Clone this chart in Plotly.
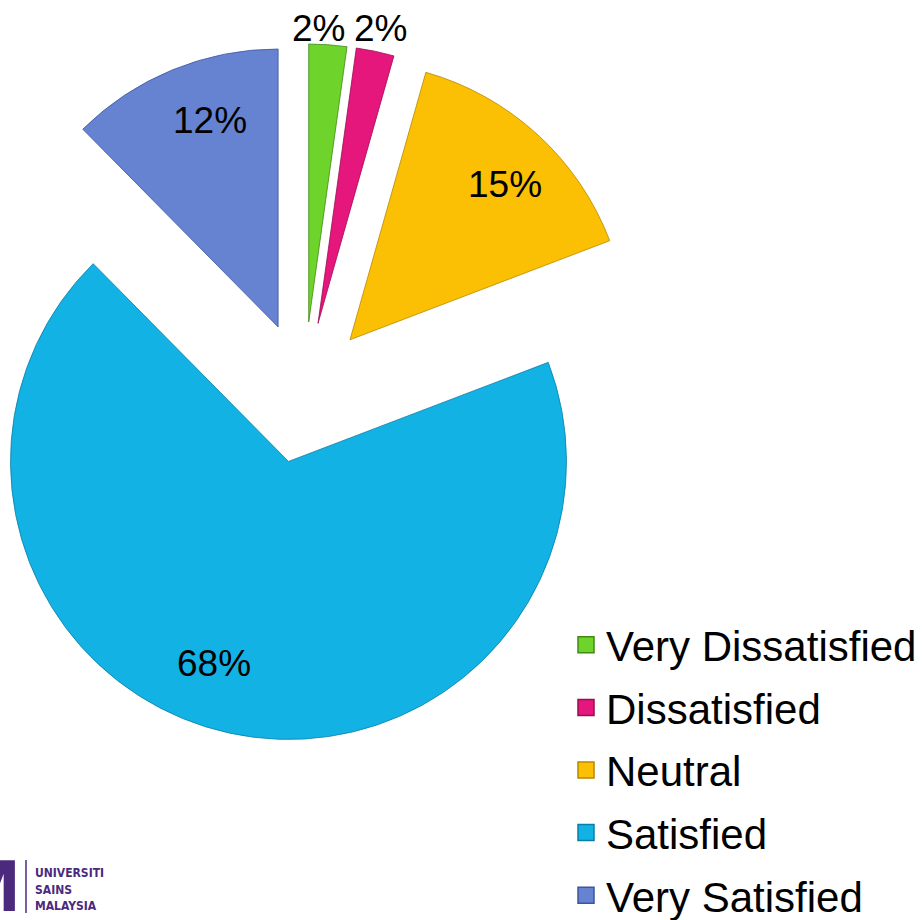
import math
import plotly.graph_objects as go

# ---------------- data ----------------
labels = ["Very Dissatisfied", "Dissatisfied", "Neutral", "Satisfied", "Very Satisfied"]
values = [2.2, 2.2, 14.8, 68.4, 12.4]

# ---------------- style ----------------
colors = ["#6ED42C", "#E5167C", "#FBC003", "#12B2E4", "#6683D2"]
edge_colors = ["#3F8A12", "#9A0D50", "#B98800", "#0A7FA6", "#3E559E"]
pull = [0.245, 0.245, 0.245, 0.263, 0.245]          # explode fraction of radius
label_r = [1.06, 1.085, 0.79, 0.77, 0.78]           # label distance / radius
label_dx = [-11, 0, 7, -29, 14]                     # fine label nudges (px)
label_dy = [0, 0, 7, -7, -6]

W, H = 922, 920
CX, CY, R = 304.0, 390.0, 278.0                     # pie centre / radius in px
FONT = "Liberation Sans, Arial, Helvetica, sans-serif"

fig = go.Figure()

total = sum(values)
start = 0.0
annotations = []
for k, v in enumerate(values):
    span = 360.0 * v / total
    mid = math.radians(start + span / 2.0)
    start += span
    # centre of the exploded slice
    sx = CX + pull[k] * R * math.sin(mid)
    sy = CY - pull[k] * R * math.cos(mid)
    x0 = max(0.0, (sx - R) / W)
    x1 = min(1.0, (sx + R) / W)
    y0 = max(0.0, (H - (sy + R)) / H)
    y1 = min(1.0, (H - (sy - R)) / H)
    fig.add_trace(go.Pie(
        labels=labels,
        values=values,
        sort=False,
        direction="clockwise",
        rotation=0,
        marker=dict(
            colors=[c if i == k else "rgba(0,0,0,0)" for i, c in enumerate(colors)],
            line=dict(color=[c if i == k else "rgba(0,0,0,0)" for i, c in enumerate(edge_colors)],
                      width=0.8),
        ),
        textinfo="none",
        hoverinfo="label+percent",
        showlegend=False,
        domain=dict(x=[x0, x1], y=[y0, y1]),
    ))
    # percentage label
    lx = sx + label_r[k] * R * math.sin(mid) + label_dx[k]
    ly = sy - label_r[k] * R * math.cos(mid) + label_dy[k]
    annotations.append(dict(
        x=lx / W, y=(H - ly) / H, xref="paper", yref="paper",
        text=f"{round(100 * v / total)}%", showarrow=False,
        xanchor="center", yanchor="middle",
        font=dict(family=FONT, size=37, color="#000000"),
    ))

# legend entries
for k, lab in enumerate(labels):
    fig.add_trace(go.Scatter(
        x=[None], y=[None], mode="markers", name=lab,
        legendgroup=lab,
        marker=dict(symbol="square", size=16, color=colors[k],
                    line=dict(color=edge_colors[k], width=1.5)),
        showlegend=True,
    ))

# logo (Universiti Sains Malaysia)
LOGO = "#4B2A7E"
NARROW = "Liberation Sans Narrow, DejaVu Sans Condensed, Arial Narrow, Liberation Sans, sans-serif"
annotations.append(dict(
    x=23 / W, y=(H - 887) / H, xref="paper", yref="paper", text="<b>M</b>",
    showarrow=False, xanchor="right", yanchor="middle",
    font=dict(family=NARROW, size=70, color=LOGO)))
for txt, yy in [("UNIVERSITI", 873), ("SAINS", 889.5), ("MALAYSIA", 906)]:
    annotations.append(dict(
        x=33 / W, y=(H - yy) / H, xref="paper", yref="paper", text=f"<b>{txt}</b>",
        showarrow=False, xanchor="left", yanchor="middle",
        font=dict(family=NARROW, size=12, color=LOGO)))

fig.update_layout(
    width=W, height=H,
    margin=dict(l=0, r=0, t=0, b=0, autoexpand=False),
    paper_bgcolor="white", plot_bgcolor="white",
    xaxis=dict(visible=False), yaxis=dict(visible=False),
    annotations=annotations,
    shapes=[dict(type="line", xref="paper", yref="paper",
                 x0=26 / W, x1=26 / W, y0=(H - 860) / H, y1=(H - 913) / H,
                 line=dict(color=LOGO, width=1.5))],
    legend=dict(
        x=566 / W, y=(H - 611) / H, xanchor="left", yanchor="top",
        font=dict(family=FONT, size=42, color="#000000"),
        tracegroupgap=5, bgcolor="rgba(0,0,0,0)",
    ),
)

fig.write_html("out.html")
